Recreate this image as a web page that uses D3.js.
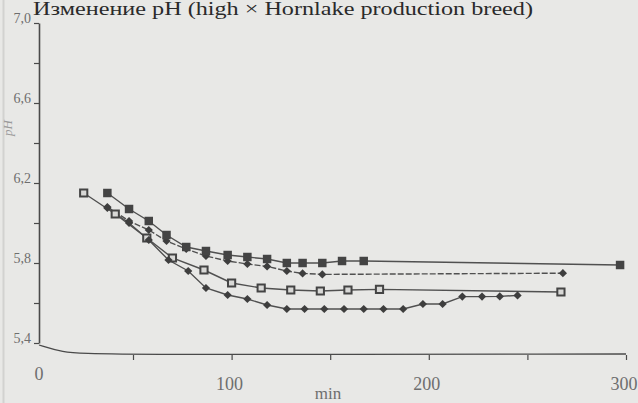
<!DOCTYPE html>
<html>
<head>
<meta charset="utf-8">
<script src="https://cdn.jsdelivr.net/npm/d3@7"></script>
<style>
  body { margin: 0; background: #e8e8e6; }
  svg { display: block; }
</style>
</head>
<body>
<svg class="chart" width="638" height="403"></svg>
<script>
// values (minutes, pH)
var sqFilledT = [37, 48, 58, 67, 77, 87, 98, 108, 118, 128, 136, 146, 156, 167, 297];
var sqFilledV = [6.15, 6.07, 6.01, 5.94, 5.88, 5.86, 5.84, 5.83, 5.82, 5.80, 5.80, 5.80, 5.81, 5.81, 5.79];

var diaUpperT = [37, 48, 58, 67, 77, 87, 98, 108, 118, 128, 136, 146, 268];
var diaUpperV = [6.08, 6.01, 5.965, 5.91, 5.87, 5.835, 5.81, 5.795, 5.783, 5.76, 5.748, 5.743, 5.749];

var sqOpenT = [25, 41, 57, 70, 86, 100, 115, 130, 145, 159, 175, 267];
var sqOpenV = [6.15, 6.045, 5.925, 5.825, 5.765, 5.70, 5.675, 5.665, 5.66, 5.665, 5.668, 5.655];

var diaLowerT = [37, 48, 58, 68, 78, 87, 98, 108, 118, 128, 137, 147, 157, 167, 177, 187, 197, 207, 217, 227, 236, 245];
var diaLowerV = [6.075, 6.0, 5.915, 5.815, 5.76, 5.675, 5.64, 5.62, 5.59, 5.57, 5.57, 5.57, 5.57, 5.57, 5.57, 5.57, 5.595, 5.595, 5.632, 5.632, 5.633, 5.638];

var yTicks = [5.4, 5.6, 5.8, 6.0, 6.2, 6.4, 6.6, 6.8, 7.0];
var yLabels = [5.4, 5.8, 6.2, 6.6, 7.0];
var xTicks = [50, 100, 150, 200, 250, 300];
var xLabels = [0, 100, 200, 300];

var titleText = "Изменение pH (high × Hornlake production breed)";

var svg = d3.select("svg.chart");
var ink = "#4a4a4a";
var pale = "#6e6e6e";

var x = d3.scaleLinear().domain([0, 300]).range([34.4, 626]);
var y = d3.scaleLinear().domain([5.4, 7.0]).range([343, 23]);
var axisX = 39;
var baseY = 355;

function zip(t, v) {
    return t.map(function(d, i) { return [d, v[i]]; });
}

// paper edge
svg.append("line")
    .attr("x1", 3.5).attr("x2", 3.5).attr("y1", 0).attr("y2", 403)
    .attr("stroke", "#d2d2d0").attr("stroke-width", 2);

// title
svg.append("text")
    .attr("x", 33)
    .attr("y", 15)
    .attr("font-family", "Liberation Serif, serif")
    .attr("font-size", "18px")
    .attr("fill", "#2a2a2a")
    .attr("textLength", 500)
    .attr("lengthAdjust", "spacingAndGlyphs")
    .text(titleText);

// y axis
var yAxis = d3.axisLeft(y)
    .tickValues(yTicks)
    .tickSize(5)
    .tickSizeOuter(0)
    .tickPadding(3)
    .tickFormat(function(d) {
        return yLabels.some(function(l) { return Math.abs(l - d) < 1e-6; })
            ? d3.format(".1f")(d).replace(".", ",") : "";
    });

var gy = svg.append("g")
    .attr("transform", "translate(" + axisX + ",0)")
    .call(yAxis);
gy.select(".domain").attr("stroke", ink).attr("stroke-width", 1.6);
gy.selectAll(".tick line").attr("stroke", ink).attr("stroke-width", 1.2);
gy.selectAll(".tick text")
    .attr("font-family", "Liberation Serif, serif")
    .attr("font-size", "14px")
    .attr("fill", pale)
    .attr("dy", "-0.05em");

// y axis title
svg.append("text")
    .attr("transform", "translate(12,128) rotate(-90)")
    .attr("text-anchor", "middle")
    .attr("font-family", "Liberation Serif, serif")
    .attr("font-style", "italic")
    .attr("font-size", "13px")
    .attr("fill", "#9a9a9a")
    .text("pH");

// x axis: curved foot, then the straight base line
var foot = d3.line().curve(d3.curveBasis);
svg.append("path")
    .attr("d", foot([[axisX, y(5.4) + 2], [axisX + 22, y(5.4) + 9], [x(30), baseY], [x(300), baseY - 1]]))
    .attr("fill", "none")
    .attr("stroke", ink)
    .attr("stroke-width", 1.3);

var xAxis = d3.axisBottom(x)
    .tickValues(xTicks)
    .tickSize(5)
    .tickSizeOuter(0)
    .tickFormat("");
var gx = svg.append("g")
    .attr("transform", "translate(0," + baseY + ")")
    .call(xAxis);
gx.select(".domain").remove();
gx.selectAll(".tick line").attr("stroke", ink).attr("stroke-width", 1.2);

svg.selectAll(".xlab")
    .data(xLabels)
    .enter()
        .append("text")
        .attr("class", "xlab")
        .attr("x", function(d) { return d === 0 ? axisX : x(d) - 2; })
        .attr("y", function(d) { return d === 0 ? 380 : 390; })
        .attr("text-anchor", "middle")
        .attr("font-family", "Liberation Serif, serif")
        .attr("font-size", "18px")
        .attr("fill", pale)
        .text(function(d) { return d; });

svg.append("text")
    .attr("x", 328)
    .attr("y", 399)
    .attr("text-anchor", "middle")
    .attr("font-family", "Liberation Serif, serif")
    .attr("font-size", "17px")
    .attr("fill", pale)
    .text("min");

// series
var line = d3.line()
    .x(function(d) { return x(d[0]); })
    .y(function(d) { return y(d[1]); });

var series = [
    { pts: zip(sqOpenT, sqOpenV), marker: "openSquare", dash: null },
    { pts: zip(diaLowerT, diaLowerV), marker: "diamond", dash: null },
    { pts: zip(diaUpperT, diaUpperV), marker: "diamond", dash: "6,2" },
    { pts: zip(sqFilledT, sqFilledV), marker: "square", dash: null }
];

series.forEach(function(s) {
    svg.append("path")
        .attr("d", line(s.pts))
        .attr("fill", "none")
        .attr("stroke", "#505050")
        .attr("stroke-width", 1.4)
        .attr("stroke-dasharray", s.dash);
});

var sq = d3.symbol().type(d3.symbolSquare);

series.forEach(function(s) {
    var g = svg.append("g");
    var m = g.selectAll("path")
        .data(s.pts)
        .enter()
            .append("path");
    if (s.marker === "square") {
        m.attr("d", sq.size(72)())
         .attr("transform", function(d) { return "translate(" + x(d[0]) + "," + y(d[1]) + ")"; })
         .attr("fill", "#444");
    } else if (s.marker === "openSquare") {
        m.attr("d", sq.size(52)())
         .attr("transform", function(d) { return "translate(" + x(d[0]) + "," + y(d[1]) + ")"; })
         .attr("fill", "#d8d8d6")
         .attr("stroke", "#444")
         .attr("stroke-width", 2);
    } else {
        m.attr("d", sq.size(34)())
         .attr("transform", function(d) { return "translate(" + x(d[0]) + "," + y(d[1]) + ") rotate(45)"; })
         .attr("fill", "#3e3e3e");
    }
});
</script>
</body>
</html>
